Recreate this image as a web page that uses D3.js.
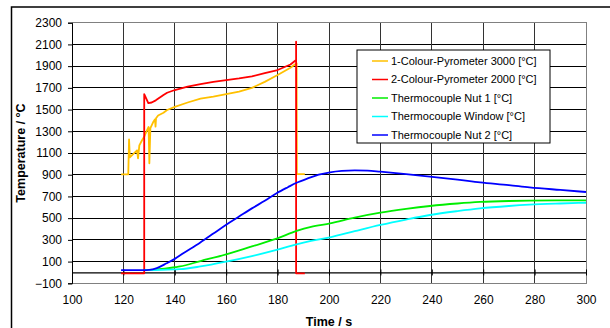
<!DOCTYPE html>
<html>
<head>
<meta charset="utf-8">
<script src="https://cdn.jsdelivr.net/npm/d3@7"></script>
<style>
  body { margin: 0; background: #fff; }
  svg { display: block; font-family: Arial, "Liberation Sans", sans-serif; }
</style>
</head>
<body>
<svg width="610" height="328"></svg>
<script>
// values
const xTicks = [100, 120, 140, 160, 180, 200, 220, 240, 260, 280, 300];
const yTicks = [-100, 100, 300, 500, 700, 900, 1100, 1300, 1500, 1700, 1900, 2100, 2300];

const pyro1T = [119.1, 121.9, 122.2, 122.5, 124, 125.3, 125.7, 126.2, 127.2, 128.2, 129.2, 129.8, 130.1, 130.5, 131.5, 132.3, 132.5, 132.7, 133.5, 135.6, 137, 140, 145, 150, 155, 160, 165, 170, 175, 180, 185, 187.4, 187.5, 190.6];
const pyro1V = [904, 904, 1226, 1060, 1095, 1125, 1050, 1170, 1215, 1255, 1310, 1340, 1005, 1330, 1380, 1410, 1342, 1420, 1445, 1471, 1496, 1525, 1565, 1600, 1620, 1643, 1665, 1700, 1755, 1818, 1885, 1926, 906, 906];

const pyro2T = [119.1, 128.1, 128.1, 129.7, 131, 132.6, 135.6, 137, 140, 145, 150, 155, 160, 165, 170, 175, 180, 185, 187.2, 187.2, 187.2, 190.6];
const pyro2V = [-8, -8, 1643, 1560, 1565, 1585, 1634, 1655, 1680, 1712, 1735, 1755, 1772, 1787, 1805, 1835, 1864, 1915, 1956, 2125, -8, -8];

const nut1T = [128, 132, 136, 140, 142, 150, 160, 170, 179.6, 187.4, 193, 200.4, 210, 220, 230, 239.3, 250, 258.8, 270, 278, 290, 300];
const nut1V = [22, 26, 35, 48, 55, 105, 167, 240, 311, 382, 420, 452, 505, 550, 585, 612, 635, 649, 658, 661, 663, 664];

const windowT = [128, 135, 140, 142, 150, 160, 170, 179.6, 187.4, 193, 200.4, 210, 220, 230, 239.3, 250, 258.8, 270, 278, 290, 300];
const windowV = [22, 24, 28, 30, 55, 99, 150, 207, 259, 290, 324, 380, 437, 487, 529, 565, 590, 612, 624, 635, 642];

const nut2T = [119.1, 128, 130, 133, 136.8, 140, 143.3, 149.8, 155, 160, 165, 170, 175, 179.6, 184, 187.4, 192, 196, 200.4, 205, 210, 215, 220, 230, 239.3, 250, 258.8, 270, 278, 290, 300];
const nut2V = [22, 22, 24, 40, 84, 125, 176, 274, 358, 440, 515, 590, 660, 729, 785, 826, 868, 900, 922, 935, 940, 938, 928, 905, 882, 855, 830, 805, 784, 760, 741];

const seriesNames = ["1-Colour-Pyrometer 3000 [°C]", "2-Colour-Pyrometer 2000 [°C]", "Thermocouple Nut 1 [°C]", "Thermocouple Window [°C]", "Thermocouple Nut 2 [°C]"];
const seriesColors = ["#ffc000", "#ff0000", "#00ee00", "#00ffff", "#0000ff"];
const smoothSeries = [false, false, true, true, true];

const series = [
  [pyro1T, pyro1V], [pyro2T, pyro2V], [nut1T, nut1V], [windowT, windowV], [nut2T, nut2V]
].map((s, i) => ({
  name: seriesNames[i],
  color: seriesColors[i],
  smooth: smoothSeries[i],
  points: s[0].map((t, j) => [t, s[1][j]])
}));

const svg = d3.select("svg");
const plotL = 72, plotR = 586, plotT = 22.7, plotB = 283.3;

const x = d3.scaleLinear().domain([100, 300]).range([plotL, plotR]);
const y = d3.scaleLinear().domain([-100, 2300]).range([plotB, plotT]);

// outer chart frame
svg.append("rect")
  .attr("x", 11.5).attr("y", 7)
  .attr("width", 640).attr("height", 360)
  .attr("fill", "none").attr("stroke", "#000").attr("stroke-width", 1.5);

// grid
const grid = svg.append("g").attr("shape-rendering", "crispEdges");
grid.selectAll("line.h").data(yTicks).enter().append("line")
  .attr("x1", plotL).attr("x2", plotR)
  .attr("y1", d => y(d)).attr("y2", d => y(d))
  .attr("stroke", "#000");
grid.selectAll("line.v").data(xTicks).enter().append("line")
  .attr("y1", plotT).attr("y2", plotB)
  .attr("x1", d => x(d)).attr("x2", d => x(d))
  .attr("stroke", "#333");
grid.append("rect")
  .attr("x", plotL).attr("y", plotT)
  .attr("width", plotR - plotL).attr("height", plotB - plotT)
  .attr("fill", "none").attr("stroke", "#808080");

const fontFam = "Arial, 'Liberation Sans', sans-serif";

// y axis
const yAxis = svg.append("g")
  .attr("transform", `translate(${plotL},0)`)
  .call(d3.axisLeft(y).tickValues(yTicks).tickFormat(d3.format("d")).tickSize(4).tickPadding(6));
yAxis.select(".domain").attr("stroke", "#000");
yAxis.selectAll("text").attr("font-size", 12).attr("font-family", fontFam).attr("fill", "#000");

// x axis sits on the zero line, labels below the plot
const xAxis = svg.append("g")
  .attr("transform", `translate(0,${y(0)})`)
  .call(d3.axisBottom(x).tickValues(xTicks).tickFormat(d3.format("d")).tickSizeInner(3).tickSizeOuter(0));
xAxis.select(".domain").attr("stroke", "#000").attr("stroke-width", 1.2);
xAxis.selectAll(".tick line").attr("y1", -3);
xAxis.selectAll("text")
  .attr("y", plotB - y(0) + 12)
  .attr("dy", "0.71em")
  .attr("font-size", 12).attr("font-family", fontFam).attr("fill", "#000");

// axis titles
svg.append("text")
  .attr("x", (plotL + plotR) / 2).attr("y", 325.5)
  .attr("text-anchor", "middle")
  .attr("font-size", 12.5).attr("font-weight", "bold")
  .text("Time / s");
svg.append("text")
  .attr("transform", `translate(25,${(plotT + plotB) / 2}) rotate(-90)`)
  .attr("text-anchor", "middle")
  .attr("font-size", 12.5).attr("font-weight", "bold")
  .text("Temperature / °C");

// lines
const straight = d3.line().x(d => x(d[0])).y(d => y(d[1]));
const smooth = d3.line().curve(d3.curveMonotoneX).x(d => x(d[0])).y(d => y(d[1]));
svg.append("g").selectAll("path").data(series).enter().append("path")
  .attr("d", d => (d.smooth ? smooth : straight)(d.points))
  .attr("fill", "none")
  .attr("stroke", d => d.color)
  .attr("stroke-width", 1.8)
  .attr("stroke-linejoin", "round");

// legend
const legend = svg.append("g").attr("transform", "translate(357,50)");
legend.append("rect")
  .attr("width", 193).attr("height", 93)
  .attr("fill", "#fff").attr("stroke", "#000");
const item = legend.selectAll("g.item").data(series).enter().append("g")
  .attr("transform", (d, i) => `translate(0,${11 + i * 18.5})`);
item.append("line")
  .attr("x1", 15).attr("x2", 31)
  .attr("stroke", d => d.color).attr("stroke-width", 1.5);
item.append("text")
  .attr("x", 34).attr("dy", "0.35em")
  .attr("font-size", 11)
  .text(d => d.name);
</script>
</body>
</html>
